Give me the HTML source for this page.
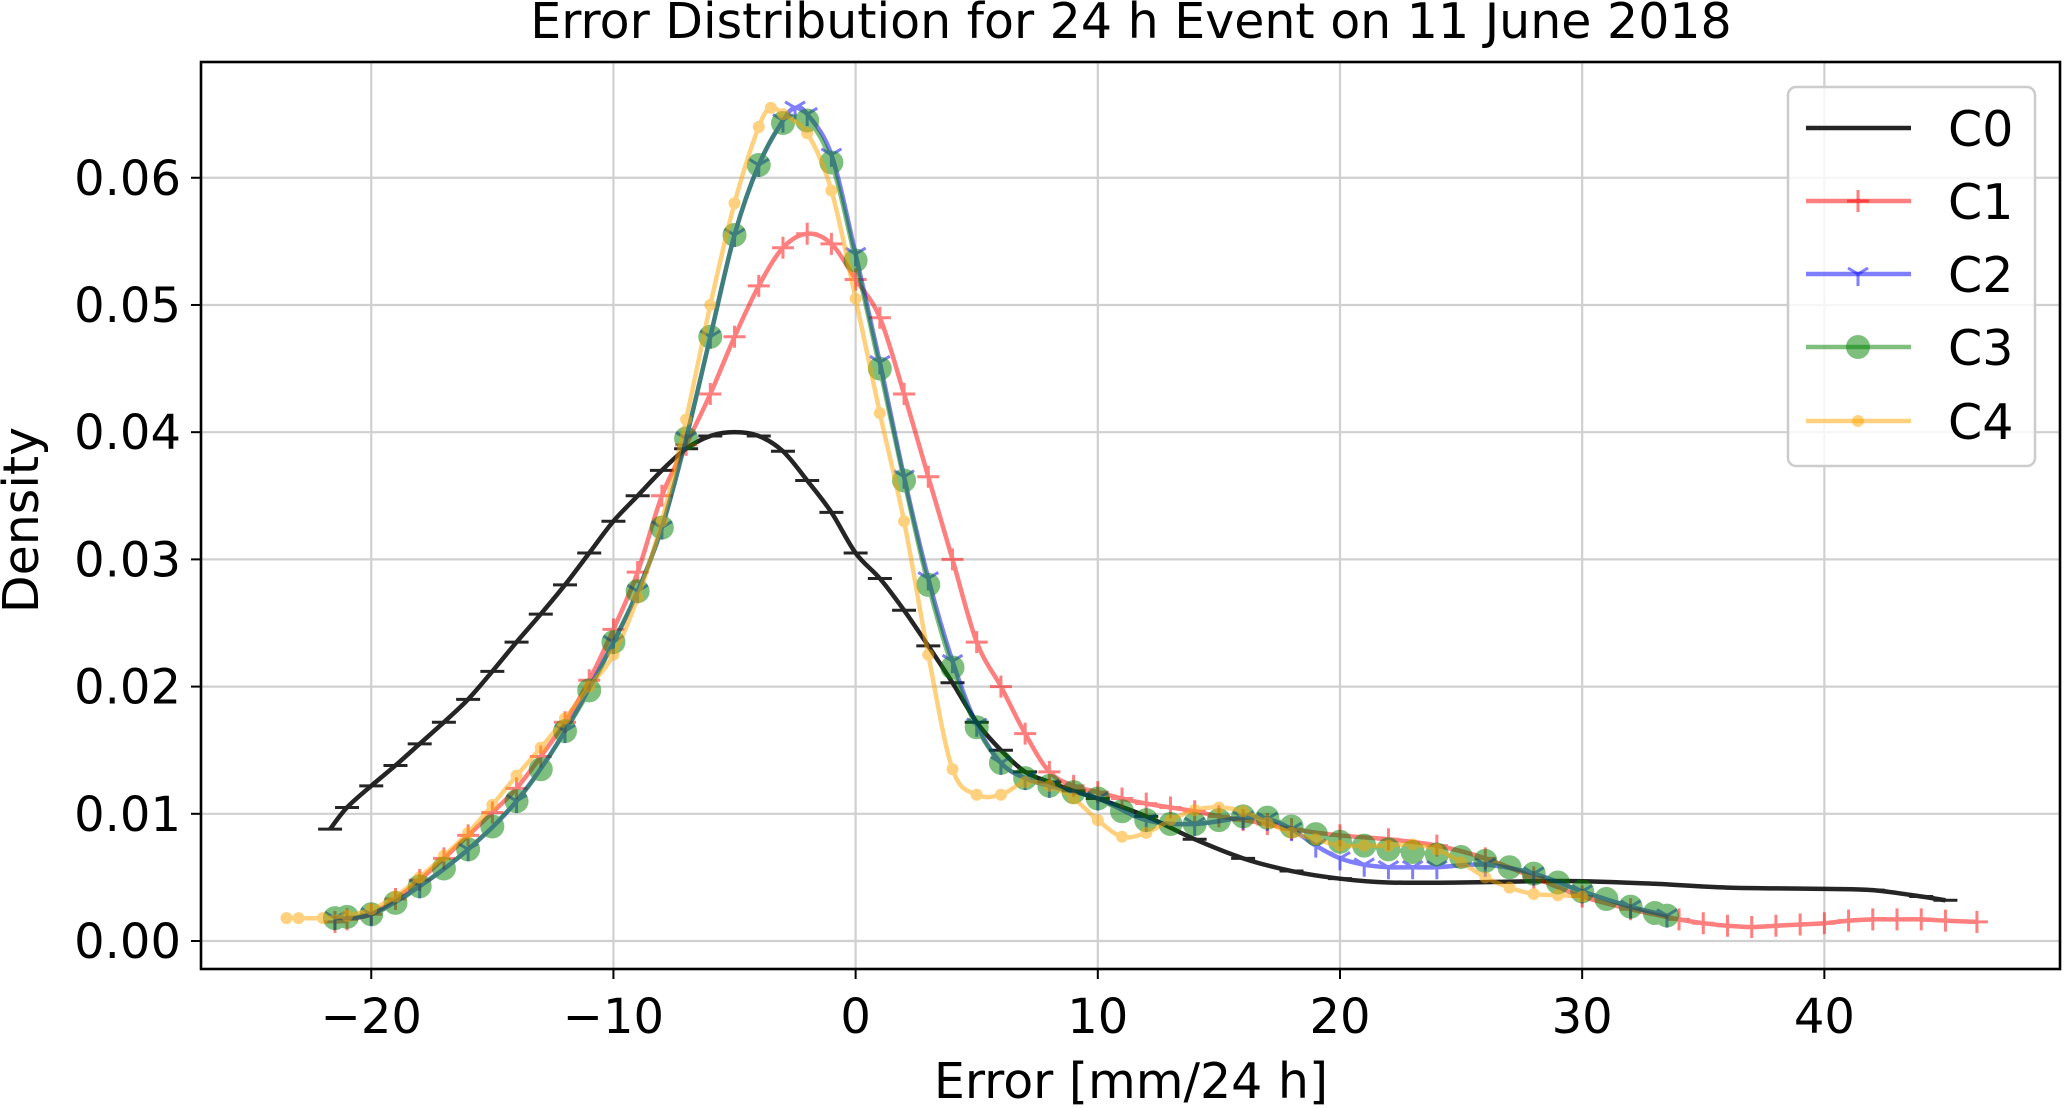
<!DOCTYPE html>
<html><head><meta charset="utf-8"><style>
html,body{margin:0;padding:0;background:#fff}
svg{display:block;font-family:"DejaVu Sans","Liberation Sans",sans-serif}
</style></head><body>
<svg id="chart" width="2064" height="1108" viewBox="0 0 2064 1108" xmlns="http://www.w3.org/2000/svg">
<rect width="2064" height="1108" fill="#fff"/>
<g id="grid"></g>
<g id="series"></g>
<rect x="201" y="62" width="1859" height="907" fill="none" stroke="#000" stroke-width="2.6"/>
<g id="axes"></g>
<text x="1131" y="38" font-size="49" text-anchor="middle">Error Distribution for 24 h Event on 11 June 2018</text>
<text x="1131" y="1098" font-size="49" text-anchor="middle">Error [mm/24 h]</text>
<text transform="translate(38,520) rotate(-90)" font-size="49" text-anchor="middle">Density</text>
<g id="legend"></g>
</svg>
<script>
const xTicks=[-20,-10,0,10,20,30,40];
const yTicks=[0,0.01,0.02,0.03,0.04,0.05,0.06];
const yTickLabels=["0.00","0.01","0.02","0.03","0.04","0.05","0.06"];
const seriesNames=["C0","C1","C2","C3","C4"];
const c0x=[-21.7,-21,-20,-19,-18,-17,-16,-15,-14,-13,-12,-11,-10,-9,-8,-7,-6,-5,-4,-3,-2,-1,0,1,2,3,4,5,6,7,8,9,10,12,14,16,18,20,22,25,28,30,33,36,40,42,44,45];
const c0y=[0.0088,0.0105,0.0122,0.0138,0.0155,0.0172,0.019,0.0212,0.0235,0.0257,0.028,0.0305,0.033,0.035,0.037,0.0387,0.0397,0.040,0.0397,0.0385,0.0362,0.0337,0.0305,0.0285,0.026,0.0232,0.0203,0.0172,0.015,0.0133,0.0125,0.0118,0.0112,0.0098,0.008,0.0065,0.0055,0.0049,0.0046,0.0046,0.0047,0.0047,0.0045,0.0042,0.0041,0.004,0.0035,0.0032];
const c1x=[-21.5,-21,-20,-19,-18,-17,-16,-15,-14,-13,-12,-11,-10,-9,-8,-7,-6,-5,-4,-3,-2,-1,0,1,2,3,4,5,6,7,8,9,10,11,12,13,14,15,16,17,18,20,22,24,26,28,30,32,34,35,36,37,38,39,40,41,42,43,44,45,46.3];
const c1y=[0.0015,0.0017,0.0021,0.0033,0.0048,0.0065,0.0083,0.0101,0.012,0.0145,0.0172,0.0205,0.0245,0.029,0.035,0.039,0.043,0.0475,0.0515,0.0545,0.0556,0.0548,0.052,0.049,0.043,0.0365,0.030,0.0235,0.020,0.0163,0.0133,0.0122,0.0117,0.0112,0.0108,0.0105,0.0102,0.0098,0.0095,0.0092,0.0088,0.0083,0.008,0.0075,0.0065,0.005,0.0035,0.0025,0.0017,0.0014,0.0012,0.0011,0.0012,0.0013,0.0014,0.0016,0.0017,0.0017,0.0017,0.0016,0.0015];
const c2x=[-21.5,-20,-18,-16,-14,-12,-10,-9,-8,-7,-6,-5,-4,-3,-2.5,-2,-1,0,1,2,3,4,5,6,7,8,10,12,14,16,17,18,19,20,21,22,23,24,26,28,30,32,33.5];
const c2y=[0.0018,0.0021,0.0043,0.0072,0.011,0.0165,0.0235,0.0275,0.0325,0.0395,0.0475,0.0555,0.061,0.0645,0.0655,0.065,0.0618,0.054,0.0455,0.0365,0.0285,0.022,0.017,0.014,0.0128,0.0122,0.0112,0.0095,0.0092,0.0097,0.0096,0.0088,0.0075,0.0065,0.006,0.0058,0.0058,0.0058,0.006,0.0053,0.0039,0.0027,0.002];
const c3x=[-21.5,-21,-20,-19,-18,-17,-16,-15,-14,-13,-12,-11,-10,-9,-8,-7,-6,-5,-4,-3,-2,-1,0,1,2,3,4,5,6,7,8,9,10,11,12,13,14,15,16,17,18,19,20,21,22,23,24,25,26,27,28,29,30,31,32,33,33.5];
const c3y=[0.0018,0.0019,0.0021,0.003,0.0043,0.0057,0.0072,0.009,0.011,0.0135,0.0165,0.0197,0.0235,0.0275,0.0325,0.0395,0.0475,0.0555,0.061,0.0643,0.0645,0.0612,0.0535,0.045,0.0362,0.028,0.0215,0.0168,0.014,0.0128,0.0122,0.0117,0.0112,0.0102,0.0095,0.0092,0.0092,0.0095,0.0098,0.0097,0.009,0.0084,0.0078,0.0075,0.0072,0.007,0.0068,0.0066,0.0063,0.0058,0.0053,0.0046,0.0039,0.0033,0.0027,0.0022,0.002];
const c4x=[-23.5,-23,-22,-21,-20,-19,-18,-17,-16,-15,-14,-13,-12,-11,-10,-9,-8,-7,-6,-5,-4,-3.5,-3,-2,-1,0,1,2,3,4,5,6,7,8,9,10,11,12,13,14,15,16,17,18,19,20,21,22,23,24,25,26,27,28,29,30];
const c4y=[0.0018,0.0018,0.0018,0.002,0.0025,0.0035,0.005,0.0067,0.0085,0.0107,0.013,0.0152,0.0175,0.02,0.0225,0.027,0.033,0.041,0.05,0.058,0.064,0.0655,0.065,0.0635,0.059,0.0505,0.0415,0.033,0.0225,0.0135,0.0115,0.0115,0.0125,0.0122,0.0112,0.0095,0.0082,0.0085,0.0095,0.0103,0.0105,0.0102,0.0093,0.0085,0.008,0.0075,0.0075,0.0075,0.0076,0.0072,0.0062,0.005,0.0042,0.0037,0.0036,0.0035];

const X0=201,X1=2060,Y0=62,Y1=969,XMIN=-27.03,XMAX=49.73,YMIN=-0.0022,YMAX=0.0691;
function sx(v){return X0+(v-XMIN)/(XMAX-XMIN)*(X1-X0);}
function sy(v){return Y1-(v-YMIN)/(YMAX-YMIN)*(Y1-Y0);}
const NS='http://www.w3.org/2000/svg';
function mk(tag,attrs,parent){const e=document.createElementNS(NS,tag);for(const k in attrs)e.setAttribute(k,attrs[k]);parent.appendChild(e);return e;}
const grid=document.getElementById('grid'),axes=document.getElementById('axes');
xTicks.forEach(t=>{
  const g=mk('line',{x1:sx(t),x2:sx(t),y1:Y0,y2:Y1,stroke:'#d0d0d0','stroke-width':2.2},grid);
  
  
  const tk=mk('line',{x1:sx(t),x2:sx(t),y1:Y1,y2:Y1+10,stroke:'#000','stroke-width':2},axes);
  
  
  const tx=mk('text',{x:sx(t),y:1033,'font-size':48,'text-anchor':'middle'},axes);
  tx.textContent=(t<0?'\u2212'+(-t):''+t);
  
  
});
yTicks.forEach((t,i)=>{
  const g=mk('line',{x1:X0,x2:X1,y1:sy(t),y2:sy(t),stroke:'#d0d0d0','stroke-width':2.2},grid);
  
  
  const tk=mk('line',{x1:X0-10,x2:X0,y1:sy(t),y2:sy(t),stroke:'#000','stroke-width':2},axes);
  
  
  const tx=mk('text',{x:X0-20,y:sy(t)+17,'font-size':48,'text-anchor':'end'},axes);
  tx.textContent=yTickLabels[i];
  
  
});
function smoothPath(xs,ys){
  const p=xs.map((x,i)=>[sx(x),sy(ys[i])]);
  let d='M'+p[0][0]+','+p[0][1];
  for(let i=0;i<p.length-1;i++){
    const a=p[Math.max(0,i-1)],b=p[i],c=p[i+1],e=p[Math.min(p.length-1,i+2)];
    const c1=[b[0]+(c[0]-a[0])/6,b[1]+(c[1]-a[1])/6],c2=[c[0]-(e[0]-b[0])/6,c[1]-(e[1]-b[1])/6];
    d+=' C'+c1[0]+','+c1[1]+' '+c2[0]+','+c2[1]+' '+c[0]+','+c[1];
  }
  return d;
}
function marker(type,x,y,color,parent){
  let m;
  if(type==='_') m=mk('line',{x1:x-12,x2:x+12,y1:y,y2:y,stroke:color,'stroke-width':3},parent);
  else if(type==='+') m=mk('path',{d:`M${x-11},${y}H${x+11}M${x},${y-11}V${y+11}`,stroke:color,'stroke-width':3,fill:'none'},parent);
  else if(type==='1') m=mk('path',{d:`M${x},${y}V${y+12}M${x},${y}L${x-10},${y-6}M${x},${y}L${x+10},${y-6}`,stroke:color,'stroke-width':3,fill:'none'},parent);
  else if(type==='o') m=mk('circle',{cx:x,cy:y,r:11,fill:color,stroke:color,'stroke-width':2},parent);
  else m=mk('circle',{cx:x,cy:y,r:6,fill:color},parent);
  return m;
}
const sdefs=[
  {name:'c0',xs:c0x,ys:c0y,color:'#000',op:0.85,m:'_'},
  {name:'c1',xs:c1x,ys:c1y,color:'#ff0000',op:0.5,m:'+'},
  {name:'c2',xs:c2x,ys:c2y,color:'#0000ff',op:0.5,m:'1'},
  {name:'c3',xs:c3x,ys:c3y,color:'#008000',op:0.5,m:'o'},
  {name:'c4',xs:c4x,ys:c4y,color:'#ffa500',op:0.5,m:'.'}
];
const sg=document.getElementById('series');
sdefs.forEach(s=>{
  const g=mk('g',{opacity:s.op},sg);
  
  
  const p=mk('path',{d:smoothPath(s.xs,s.ys),fill:'none',stroke:s.color,'stroke-width':4.5},g);
  
  
  s.xs.forEach((x,i)=>{
    const m=marker(s.m,sx(x),sy(s.ys[i]),s.color,g);
    
    
  });
});
const lg=document.getElementById('legend');
const box=mk('rect',{x:1788,y:87,width:247,height:379,rx:8,fill:'#fff','fill-opacity':0.8,stroke:'#ccc','stroke-width':2.5},lg);


const ly=[128,201,274,347,421];
sdefs.forEach((s,i)=>{
  const g=mk('g',{},lg);
  
  
  const l=mk('line',{x1:1806,x2:1911,y1:ly[i],y2:ly[i],stroke:s.color,'stroke-width':4.5,opacity:s.op},g);
  
  
  if(s.m!=='_'){const m=marker(s.m,1858,ly[i],s.color,g);m.setAttribute('opacity',s.op);
    
    }
  const t=mk('text',{x:1948,y:ly[i]+18,'font-size':49},g);
  t.textContent=seriesNames[i];
  
  
});
</script>
</body></html>
